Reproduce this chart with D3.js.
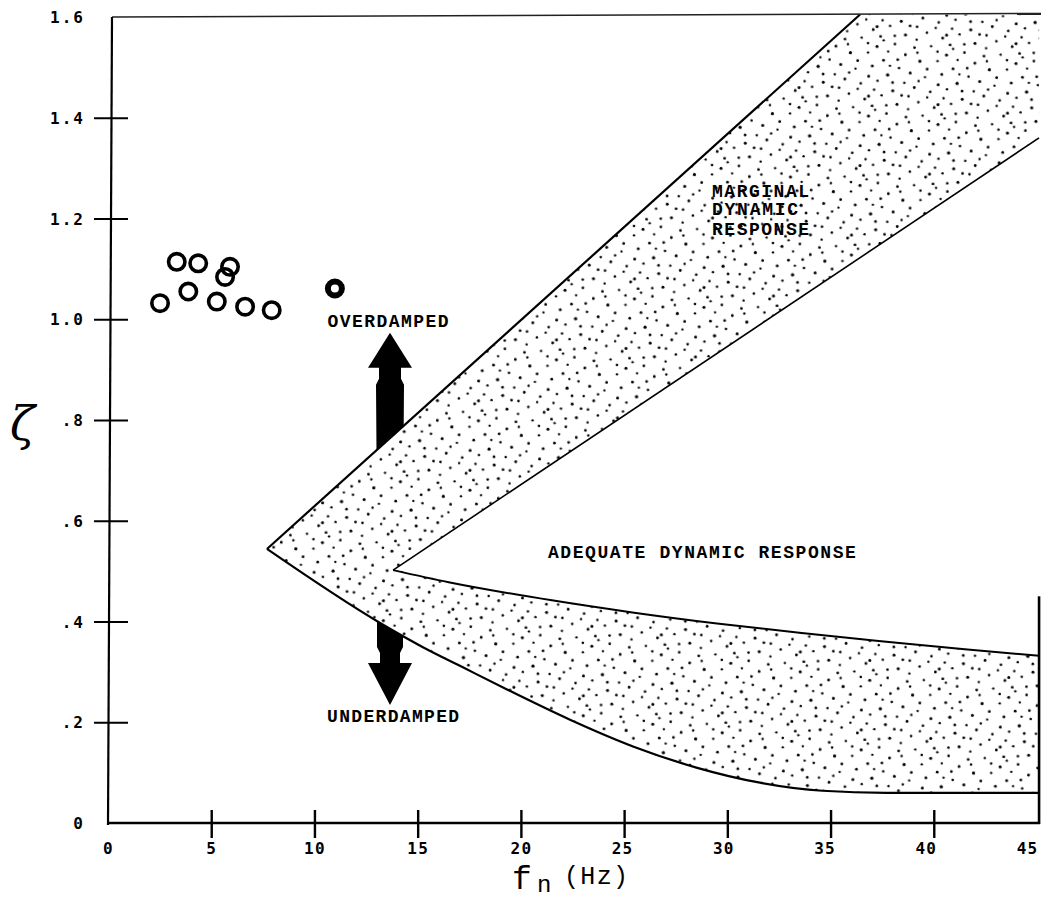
<!DOCTYPE html>
<html><head><meta charset="utf-8">
<script src="https://cdn.jsdelivr.net/npm/d3@7"></script>
<style>body{margin:0;background:#fff} svg{display:block}</style>
</head><body>
<svg id="chart" width="1041" height="900"></svg>
<script>
// ---------- data ----------
const xTicks = [0, 5, 10, 15, 20, 25, 30, 35, 40, 45];
const yTicks = [0, 0.2, 0.4, 0.6, 0.8, 1.0, 1.2, 1.4, 1.6];
const yTickLabels = ["0", ".2", ".4", ".6", ".8", "1.0", "1.2", "1.4", "1.6"];

// measured points (natural frequency Hz, damping ratio)
const pointFn   = [3.33, 4.37, 5.91, 5.67, 3.89, 2.52, 5.27, 6.64, 7.93];
const pointZeta = [1.114, 1.111, 1.104, 1.084, 1.055, 1.032, 1.035, 1.025, 1.018];
const boldPointFn   = [10.99];
const boldPointZeta = [1.061];

// region boundaries
const outerUpperFn   = [7.70, 36.43];
const outerUpperZeta = [0.544, 1.605];
const innerUpperFn   = [13.81, 45.1];
const innerUpperZeta = [0.502, 1.36];
const innerLowerFn   = [13.81, 16.5, 21.5, 25.4, 29.5, 33.6, 37.7, 41.5, 45.1];
const innerLowerZeta = [0.502, 0.478, 0.442, 0.418, 0.396, 0.377, 0.360, 0.345, 0.332];
const outerLowerFn   = [7.70, 13.18, 15.21, 17.24, 19.33, 22.38, 25.43, 28.5, 31.58, 34.6, 37.7, 45.1];
const outerLowerZeta = [0.544, 0.397, 0.350, 0.308, 0.265, 0.205, 0.152, 0.110, 0.080, 0.064, 0.060, 0.060];

// damping arrow (Hz, tips in zeta)
const arrowFn = 13.66;
const arrowUpTip = 0.973;
const arrowDownTip = 0.234;

// ---------- scales ----------
const x = d3.scaleLinear().domain([0, 45]).range([108, 1037]);
const y = d3.scaleLinear().domain([0, 1.6]).range([823, 17]);
const svg = d3.select("#chart");
const P = (f, z) => [x(f), y(z)];

// stipple pattern (texture tile)
const stippleDots = [[3,5,1.4],[17,2,1.2],[31,8,1.5],[46,4,1.3],[56,12,1.4],[9,16,1.6],[24,14,1.2],[38,19,1.4],
  [52,24,1.3],[2,27,1.5],[15,29,1.2],[29,25,1.4],[43,31,1.6],[58,36,1.2],[7,39,1.4],[21,41,1.3],[35,37,1.2],
  [49,44,1.5],[12,51,1.3],[26,54,1.4],[40,49,1.2],[54,55,1.5],[4,58,1.2],[33,59,1.4],[19,46,1.2],[45,57,1.3],
  [27,34,1.5],[10,33,1.2],[50,17,1.4],[36,2,1.2],[23,6,1.3],[41,11,1.2],[57,47,1.4],[3,47,1.3],[16,22,1.4],
  [33,45,1.2],[48,37,1.3],[6,9,1.2],[29,51,1.5],[44,23,1.2]];
const tile = 70, k = tile / 60;
const defs = svg.append("defs");
const pat = defs.append("pattern").attr("id", "stip").attr("patternUnits", "userSpaceOnUse")
  .attr("width", tile).attr("height", tile).attr("patternTransform", "rotate(7)");
pat.selectAll("circle").data(stippleDots).join("circle")
  .attr("cx", d => d[0] * k).attr("cy", d => d[1] * k).attr("r", d => d[2]).attr("fill", "#000");

// ---------- arrows (drawn first, band covers middle) ----------
const ax = x(arrowFn);
const yu = y(arrowUpTip), yd = y(arrowDownTip);
const upPath = d3.path();
upPath.moveTo(ax, yu);
upPath.lineTo(ax + 22, yu + 35); upPath.lineTo(ax + 11, yu + 35);
upPath.lineTo(ax + 11, yu + 46); upPath.lineTo(ax + 14, yu + 52);
upPath.lineTo(ax + 13, y(0.6)); upPath.lineTo(ax - 13, y(0.6));
upPath.lineTo(ax - 14, yu + 52); upPath.lineTo(ax - 11, yu + 46);
upPath.lineTo(ax - 11, yu + 35); upPath.lineTo(ax - 22, yu + 35);
upPath.closePath();
svg.append("path").attr("d", upPath.toString()).attr("fill", "#000");
const dnPath = d3.path();
dnPath.moveTo(ax, yd);
dnPath.lineTo(ax + 22, yd - 42); dnPath.lineTo(ax + 10, yd - 42);
dnPath.lineTo(ax + 10, yd - 52); dnPath.lineTo(ax + 13, yd - 58);
dnPath.lineTo(ax + 13, y(0.5)); dnPath.lineTo(ax - 13, y(0.5));
dnPath.lineTo(ax - 13, yd - 58); dnPath.lineTo(ax - 10, yd - 52);
dnPath.lineTo(ax - 10, yd - 42); dnPath.lineTo(ax - 22, yd - 42);
dnPath.closePath();
svg.append("path").attr("d", dnPath.toString()).attr("fill", "#000");

// ---------- band ----------
const ou = outerUpperFn.map((d, i) => P(d, outerUpperZeta[i]));
const iu = innerUpperFn.map((d, i) => P(d, innerUpperZeta[i]));
const il = innerLowerFn.map((d, i) => P(d, innerLowerZeta[i]));
const ol = outerLowerFn.map((d, i) => P(d, outerLowerZeta[i]));
const lin = d3.line();
const mono = d3.line().curve(d3.curveMonotoneX);
const cont = s => "L" + s.slice(1);
const bandD = "M" + ou[0].join(",") + "L" + ou[1].join(",") +
  "L" + P(45.1, 1.605).join(",") + "L" + iu[1].join(",") + "L" + iu[0].join(",") +
  cont(mono(il)) + "L" + ol[ol.length - 1].join(",") + cont(mono(ol.slice().reverse())) + "Z";
svg.append("path").attr("d", bandD).attr("fill", "#fff");
svg.append("path").attr("d", bandD).attr("fill", "url(#stip)");
svg.append("path").attr("d", lin(ou)).attr("fill", "none").attr("stroke", "#000").attr("stroke-width", 2.2);
svg.append("path").attr("d", lin(iu)).attr("fill", "none").attr("stroke", "#000").attr("stroke-width", 1.6);
svg.append("path").attr("d", mono(il)).attr("fill", "none").attr("stroke", "#000").attr("stroke-width", 2);
svg.append("path").attr("d", mono(ol)).attr("fill", "none").attr("stroke", "#000").attr("stroke-width", 2.2);

// ---------- frame & axes ----------
svg.append("line").attr("x1", x(0) + 4).attr("y1", y(1.6)).attr("x2", 1041).attr("y2", y(1.607))
  .attr("stroke", "#222").attr("stroke-width", 1.5);
svg.append("line").attr("x1", x(0) + 4).attr("y1", y(1.6)).attr("x2", x(0)).attr("y2", y(0) + 2)
  .attr("stroke", "#000").attr("stroke-width", 2.2);
svg.append("line").attr("x1", x(0)).attr("y1", y(0)).attr("x2", x(45.1) + 1).attr("y2", y(0))
  .attr("stroke", "#000").attr("stroke-width", 2.6);
svg.append("line").attr("x1", x(45.1)).attr("y1", y(0.45)).attr("x2", x(45.1)).attr("y2", y(0) + 1)
  .attr("stroke", "#000").attr("stroke-width", 2.6);

const gx = svg.append("g").attr("transform", `translate(0,${y(0)})`)
  .call(d3.axisBottom(x).tickValues(xTicks).tickSize(0).tickFormat(d3.format("d")));
gx.select(".domain").remove();
gx.selectAll(".tick line").attr("y1", -13).attr("y2", 15).attr("stroke", "#000").attr("stroke-width", 2.4)
  .attr("display", d => (d === 0 || d === 45) ? "none" : null);
gx.selectAll(".tick text").attr("y", 25).attr("dy", "0.35em")
  .attr("dx", d => d > 20 ? -(d - 20) / 25 * 10 : 0)
  .attr("fill", "#000").attr("font-family", "DejaVu Sans Mono").attr("font-weight", "bold")
  .attr("font-size", 16).attr("letter-spacing", 1.2);

const gy = svg.append("g").attr("transform", `translate(${x(0) + 2},0)`)
  .call(d3.axisLeft(y).tickValues(yTicks).tickSize(0).tickFormat((d, i) => yTickLabels[i]));
gy.select(".domain").remove();
gy.selectAll(".tick line").attr("x1", -16).attr("x2", 18).attr("stroke", "#000").attr("stroke-width", 2.2)
  .attr("display", d => (d === 0 || d === 1.6) ? "none" : null);
gy.selectAll(".tick text").attr("x", -25).attr("dy", "0.35em")
  .attr("fill", "#000").attr("font-family", "DejaVu Sans Mono").attr("font-weight", "bold")
  .attr("font-size", 16).attr("letter-spacing", 2);

// ---------- points ----------
svg.append("g").selectAll("circle").data(pointFn).join("circle")
  .attr("cx", d => x(d)).attr("cy", (d, i) => y(pointZeta[i])).attr("r", 8.2)
  .attr("fill", "none").attr("stroke", "#000").attr("stroke-width", 3.6);
svg.append("g").selectAll("circle").data(boldPointFn).join("circle")
  .attr("cx", d => x(d)).attr("cy", (d, i) => y(boldPointZeta[i])).attr("r", 7)
  .attr("fill", "none").attr("stroke", "#000").attr("stroke-width", 6);

// ---------- annotations ----------
const ann = (t, f, z, anchor, len, size) => svg.append("text")
  .attr("x", x(f)).attr("y", y(z)).attr("text-anchor", anchor)
  .attr("font-family", "Liberation Mono").attr("font-weight", "bold").attr("font-size", size || 18)
  .attr("textLength", len).attr("lengthAdjust", "spacing").attr("fill", "#000").text(t);
ann("OVERDAMPED", 13.56, 0.985, "middle", 121);
ann("UNDERDAMPED", 13.81, 0.200, "middle", 132);
ann("ADEQUATE DYNAMIC RESPONSE", 21.31, 0.526, "start", 308, 18);
ann("MARGINAL", 29.26, 1.243, "start", 97);
ann("DYNAMIC", 29.26, 1.207, "start", 86);
ann("RESPONSE", 29.26, 1.167, "start", 97);

// axis titles
svg.append("text").attr("x", 10).attr("y", 440).attr("font-family", "DejaVu Serif")
  .attr("font-style", "italic").attr("font-size", 46).attr("fill", "#000").text("ζ");
svg.append("text").attr("x", 512).attr("y", 889).attr("font-family", "Liberation Mono")
  .attr("font-size", 33).attr("fill", "#000").text("f");
svg.append("text").attr("x", 537).attr("y", 892).attr("font-family", "Liberation Mono")
  .attr("font-size", 24).attr("fill", "#000").text("n");
svg.append("text").attr("x", 564).attr("y", 884).attr("font-family", "Liberation Mono")
  .attr("font-size", 25).attr("textLength", 64).attr("lengthAdjust", "spacing").attr("fill", "#000").text("(Hz)");
</script>
</body></html>
